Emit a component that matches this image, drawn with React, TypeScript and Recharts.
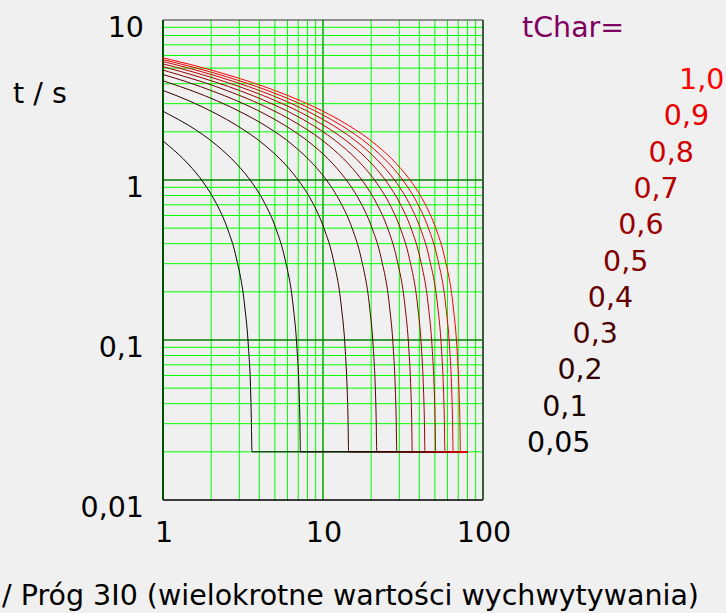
import React from 'react';
import { LineChart, Line, XAxis, YAxis, ReferenceLine, Customized } from 'recharts';

// ---- data ----
const tCharLabels = ['0,05', '0,1', '0,2', '0,3', '0,4', '0,5', '0,6', '0,7', '0,8', '0,9', '1,0'];
const seriesColors = ['#000000', '#1a0000', '#330000', '#4d0000', '#660000', '#800000', '#990000', '#b30000', '#cc0000', '#e60000', '#ff0000'];

const xTicks = [1, 10, 100];
const yTicks = [0.01, 0.1, 1, 10];
const xMinor = [2, 3, 4, 5, 6, 7, 8, 9, 20, 30, 40, 50, 60, 70, 80, 90];
const yMinor = [0.02, 0.03, 0.04, 0.05, 0.06, 0.07, 0.08, 0.09, 0.2, 0.3, 0.4, 0.5, 0.6, 0.7, 0.8, 0.9, 2, 3, 4, 5, 6, 7, 8, 9];
const yMajor = [0.1, 1];
const xMajor = [10];

const i005 = [1, 1.08, 1.44, 1.8, 2.16, 2.52, 2.88, 3.24, 3.42, 3.53, 3.56, 3.6, 80];
const t005 = [1.756, 1.646, 1.257, 0.956, 0.71, 0.502, 0.322, 0.163, 0.09, 0.048, 0.034, 0.02, 0.02];

const i01 = [1, 1.08, 1.45, 2.17, 2.89, 3.62, 4.34, 5.06, 5.78, 6.51, 6.87, 7.09, 7.16, 7.23, 80];
const t01 = [2.692, 2.581, 2.193, 1.646, 1.257, 0.956, 0.71, 0.502, 0.322, 0.163, 0.09, 0.048, 0.034, 0.02, 0.02];

const i02 = [1, 1.45, 2.17, 2.89, 4.34, 5.78, 7.23, 8.68, 10.12, 11.57, 13.01, 13.74, 14.17, 14.32, 14.46, 80];
const t02 = [3.627, 3.129, 2.581, 2.193, 1.646, 1.257, 0.956, 0.71, 0.502, 0.322, 0.163, 0.09, 0.048, 0.034, 0.02, 0.02];

const i03 = [1, 1.08, 1.52, 2.17, 3.25, 4.34, 6.51, 8.68, 10.85, 13.01, 15.18, 17.35, 19.52, 20.61, 21.26, 21.47, 21.69, 80];
const t03 = [4.175, 4.065, 3.61, 3.129, 2.581, 2.193, 1.646, 1.257, 0.956, 0.71, 0.502, 0.322, 0.163, 0.09, 0.048, 0.034, 0.02, 0.02];

const i04 = [1, 1.45, 2.02, 2.89, 4.34, 5.78, 8.68, 11.57, 14.46, 17.35, 20.24, 23.14, 26.03, 27.47, 28.34, 28.63, 28.92, 80];
const t04 = [4.563, 4.065, 3.61, 3.129, 2.581, 2.193, 1.646, 1.257, 0.956, 0.71, 0.502, 0.322, 0.163, 0.09, 0.048, 0.034, 0.02, 0.02];

const i05 = [1, 1.08, 1.81, 2.53, 3.62, 5.42, 7.23, 10.85, 14.46, 18.08, 21.69, 25.31, 28.92, 32.54, 34.34, 35.43, 35.79, 36.15, 80];
const t05 = [4.864, 4.754, 4.065, 3.61, 3.129, 2.581, 2.193, 1.646, 1.257, 0.956, 0.71, 0.502, 0.322, 0.163, 0.09, 0.048, 0.034, 0.02, 0.02];

const i06 = [1, 1.3, 2.17, 3.04, 4.34, 6.51, 8.68, 13.01, 17.35, 21.69, 26.03, 30.37, 34.7, 39.04, 41.21, 42.51, 42.95, 43.38, 80];
const t06 = [5.11, 4.754, 4.065, 3.61, 3.129, 2.581, 2.193, 1.646, 1.257, 0.956, 0.71, 0.502, 0.322, 0.163, 0.09, 0.048, 0.034, 0.02, 0.02];

const i07 = [1, 1.52, 2.53, 3.54, 5.06, 7.59, 10.12, 15.18, 20.24, 25.31, 30.37, 35.43, 40.49, 45.55, 48.08, 49.6, 50.1, 50.61, 80];
const t07 = [5.318, 4.754, 4.065, 3.61, 3.129, 2.581, 2.193, 1.646, 1.257, 0.956, 0.71, 0.502, 0.322, 0.163, 0.09, 0.048, 0.034, 0.02, 0.02];

const i08 = [1, 1.16, 1.74, 2.89, 4.05, 5.78, 8.68, 11.57, 17.35, 23.14, 28.92, 34.7, 40.49, 46.27, 52.06, 54.95, 56.68, 57.26, 57.84, 80];
const t08 = [5.499, 5.301, 4.754, 4.065, 3.61, 3.129, 2.581, 2.193, 1.646, 1.257, 0.956, 0.71, 0.502, 0.322, 0.163, 0.09, 0.048, 0.034, 0.02, 0.02];

const i09 = [1, 1.3, 1.95, 3.25, 4.55, 6.51, 9.76, 13.01, 19.52, 26.03, 32.54, 39.04, 45.55, 52.06, 58.56, 61.82, 63.77, 64.42, 65.07, 80];
const t09 = [5.658, 5.301, 4.754, 4.065, 3.61, 3.129, 2.581, 2.193, 1.646, 1.257, 0.956, 0.71, 0.502, 0.322, 0.163, 0.09, 0.048, 0.034, 0.02, 0.02];

const i10 = [1, 1.45, 2.17, 3.62, 5.06, 7.23, 10.85, 14.46, 21.69, 28.92, 36.15, 43.38, 50.61, 57.84, 65.07, 68.69, 70.85, 71.58, 72.3, 80];
const t10 = [5.8, 5.301, 4.754, 4.065, 3.61, 3.129, 2.581, 2.193, 1.646, 1.257, 0.956, 0.71, 0.502, 0.322, 0.163, 0.09, 0.048, 0.034, 0.02, 0.02];

const seriesI = [i005, i01, i02, i03, i04, i05, i06, i07, i08, i09, i10];
const seriesT = [t005, t01, t02, t03, t04, t05, t06, t07, t08, t09, t10];

const rows = (xs: number[], ts: number[]) => xs.map((x, k) => ({ I: x, t: ts[k] }));

const FONT = '"DejaVu Sans", sans-serif';
const FS = 28.5;

const fmt = (v: number) => String(v).replace('.', ',');

const YTick = (props: any) => {
  const { y, payload } = props;
  return (
    <text x={144} y={y + 17} textAnchor="end" fontFamily={FONT} fontSize={FS} fill="#000">
      {fmt(payload.value)}
    </text>
  );
};

const XTick = (props: any) => {
  const { x, payload } = props;
  return (
    <text x={x + 1} y={542} textAnchor="middle" fontFamily={FONT} fontSize={FS} fill="#000">
      {fmt(payload.value)}
    </text>
  );
};

const Labels = () => (
  <g fontFamily={FONT} fontSize={FS}>
    <text x={13} y={103} fill="#000">t / s</text>
    <text x={522} y={37} fill="#800060">tChar=</text>
    {tCharLabels.map((lab, k) => (
      <text key={lab} x={527 + k * 15.2} y={452 - k * 36.3} fill={seriesColors[k]}>
        {lab}
      </text>
    ))}
    <text x={699} y={605} textAnchor="end" fill="#000">/ Próg 3I0 (wielokrotne wartości wychwytywania)</text>
  </g>
);

export default function App() {
  return (
    <div style={{ position: 'fixed', left: 0, top: 0, width: 726, height: 613, background: '#f0f0f0', overflow: 'hidden' }}>
      <LineChart width={726} height={613} margin={{ top: 20, right: 243, bottom: 0, left: 0 }}>
        <XAxis
          type="number"
          dataKey="I"
          scale="log"
          domain={[1, 100]}
          ticks={xTicks}
          interval={0}
          height={113}
          axisLine={false}
          tickLine={false}
          tick={<XTick />}
          allowDataOverflow
        />
        <YAxis
          type="number"
          dataKey="t"
          scale="log"
          domain={[0.01, 10]}
          ticks={yTicks}
          interval={0}
          width={163}
          axisLine={false}
          tickLine={false}
          tick={<YTick />}
          allowDataOverflow
        />
        {xMinor.map((v) => (
          <ReferenceLine key={'xm' + v} x={v} stroke="#00ff00" strokeWidth={1} />
        ))}
        {yMinor.map((v) => (
          <ReferenceLine key={'ym' + v} y={v} stroke="#00ff00" strokeWidth={1} />
        ))}
        {xMajor.map((v) => (
          <ReferenceLine key={'xM' + v} x={v} stroke="#33bb33" strokeWidth={2} />
        ))}
        {yMajor.map((v) => (
          <ReferenceLine key={'yM' + v} y={v} stroke="#008000" strokeWidth={1.5} />
        ))}
        <ReferenceLine y={10} stroke="#303030" strokeWidth={1} />
        <ReferenceLine y={0.01} stroke="#000000" strokeWidth={1.5} />
        <ReferenceLine x={1} stroke="#005000" strokeWidth={2} />
        <ReferenceLine x={100} stroke="#3a5a3a" strokeWidth={2} />
        {seriesI.map((xs, k) => (
          <Line
            key={tCharLabels[k]}
            data={rows(xs, seriesT[k])}
            dataKey="t"
            type="monotone"
            stroke={seriesColors[k]}
            strokeWidth={1}
            dot={false}
            activeDot={false}
            isAnimationActive={false}
          />
        ))}
        <Customized component={Labels} />
      </LineChart>
    </div>
  );
}
